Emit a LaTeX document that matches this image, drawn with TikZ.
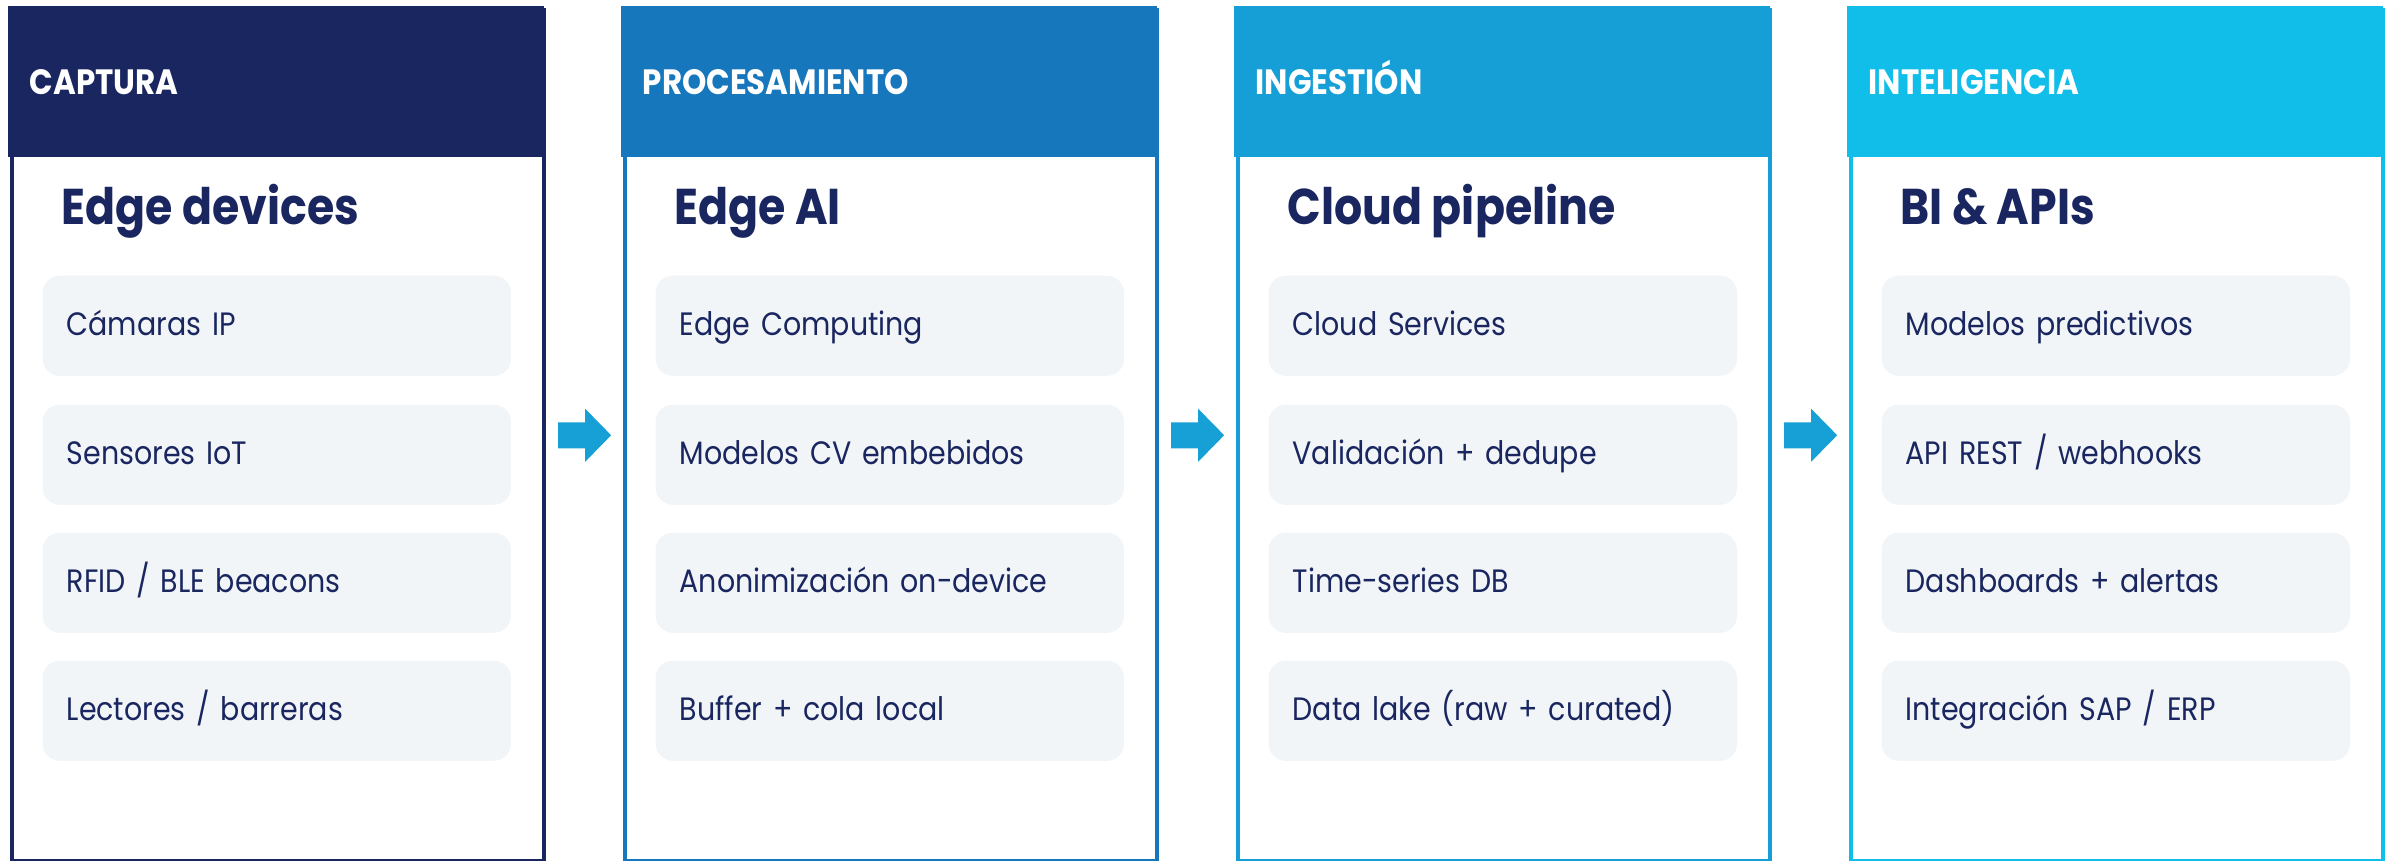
\documentclass[tikz,border=0pt]{standalone}
\usepackage{fontspec}
\setmainfont{Poppins}[FakeStretch=0.88]
\usetikzlibrary{calc}
\definecolor{navy}{HTML}{1A2660}
\definecolor{hA}{HTML}{1A2660}
\definecolor{hB}{HTML}{1677BD}
\definecolor{hC}{HTML}{169FD6}
\definecolor{hD}{HTML}{10BEE9}
\definecolor{itemfill}{HTML}{F1F5F8}
\definecolor{arrowc}{HTML}{16A0D6}
\tikzset{
  colframe/.style={line width=0.04cm, minimum width=5.32cm, minimum height=8.50cm, anchor=north west, inner sep=0pt, fill=white},
  hdrtext/.style={anchor=base west, inner sep=0pt, text=white, font=\fontsize{10}{12}\selectfont\bfseries},
  titletext/.style={anchor=base west, inner sep=0pt, text=navy, font=\fontsize{14.3}{17}\selectfont\bfseries},
  itembox/.style={anchor=north west, fill=itemfill, rounded corners=0.17cm, minimum width=4.68cm, minimum height=1cm,
     text width=4.20cm, inner xsep=0.24cm, inner ysep=0pt, align=left, text height=0.20cm, text depth=0pt,
     text=navy, font=\fontsize{9.2}{11}\selectfont},
}
\newcommand{\mkcol}[9]{%
  \node[colframe, draw=#3] (c#1) at (#2+2,8) {};
  \fill[#3] (#2,6) rectangle (#2+536,157);
  \node[hdrtext] (h#1) at (#2+21,94) {#4};
  \node[titletext] (t#1) at (#2+53,224) {#5};
  \node[itembox] (i#1a) at (#2+34,275) {#6};
  \node[itembox] (i#1b) at (#2+34,404) {#7};
  \node[itembox] (i#1c) at (#2+34,532) {#8};
  \node[itembox] (i#1d) at (#2+34,660) {#9};
}
\newcommand{\mkarrow}[2]{%
  \coordinate (a#1) at ($(c#1.east)!0.5!(c#2.west)$);
  \fill[arrowc, shift={(a#1)}] (-26.5,-13) -- (0.5,-13) -- (0.5,-26.5) -- (26.5,0) -- (0.5,26.5) -- (0.5,13) -- (-26.5,13) -- cycle;
}
\begin{document}
\begin{tikzpicture}[x=0.01cm,y=-0.01cm]
\useasboundingbox (0,0) rectangle (2397,860);
\fill[white] (0,0) rectangle (2397,860);
\mkcol{1}{8}{hA}{CAPTURA}{Edge devices}{Cámaras IP}{Sensores IoT}{RFID / BLE beacons}{Lectores / barreras}
\mkcol{2}{621}{hB}{PROCESAMIENTO}{Edge AI}{Edge Computing}{Modelos CV embebidos}{Anonimización on-device}{Buffer + cola local}
\mkcol{3}{1234}{hC}{INGESTIÓN}{Cloud pipeline}{Cloud Services}{Validación + dedupe}{Time-series DB}{Data lake (raw + curated)}
\mkcol{4}{1847}{hD}{INTELIGENCIA}{BI \& APIs}{Modelos predictivos}{API REST / webhooks}{Dashboards + alertas}{Integración SAP / ERP}
\mkarrow{1}{2}
\mkarrow{2}{3}
\mkarrow{3}{4}
\end{tikzpicture}
\end{document}
